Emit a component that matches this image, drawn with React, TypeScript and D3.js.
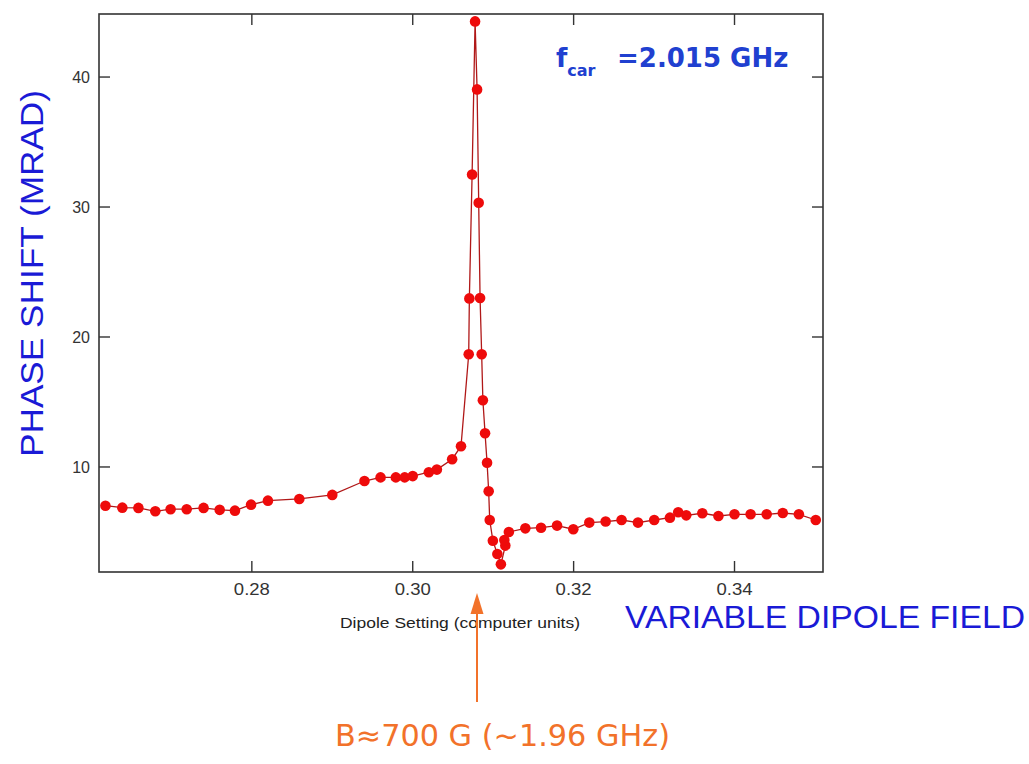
import React from "react";
import * as d3 from "d3";

const dipoleSetting: number[] = [
  0.2618, 0.2639, 0.2659, 0.268, 0.2699, 0.2719, 0.274, 0.276, 0.2779, 0.2799,
  0.282, 0.2859, 0.29, 0.294, 0.296, 0.2979, 0.299, 0.3, 0.302, 0.303,
  0.3049, 0.306, 0.30696, 0.30704, 0.30738, 0.30775, 0.308, 0.3082, 0.30837, 0.30857,
  0.30872, 0.30899, 0.30924, 0.30944, 0.30957, 0.30996, 0.31052, 0.31096, 0.31151, 0.31139,
  0.31195, 0.314, 0.31595, 0.31794, 0.31996, 0.32195, 0.32398, 0.32596, 0.328, 0.33002,
  0.33197, 0.333, 0.334, 0.336, 0.338, 0.34, 0.342, 0.344, 0.346, 0.348, 0.3501,
];

const phaseShift: number[] = [
  7.02, 6.87, 6.85, 6.59, 6.75, 6.75, 6.85, 6.7, 6.64, 7.1,
  7.41, 7.54, 7.85, 8.92, 9.2, 9.2, 9.2, 9.3, 9.6, 9.8,
  10.6, 11.6, 18.67, 22.97, 32.5, 44.28, 39.05, 30.33, 23.0, 18.67,
  15.13, 12.6, 10.33, 8.13, 5.92, 4.33, 3.31, 2.51, 3.95, 4.38,
  5.0, 5.28, 5.33, 5.49, 5.21, 5.72, 5.8, 5.92, 5.72, 5.92,
  6.1, 6.52, 6.28, 6.44, 6.23, 6.36, 6.36, 6.36, 6.46, 6.36, 5.92,
];

const xTicks: number[] = [0.28, 0.3, 0.32, 0.34];
const xTickLabels: string[] = ["0.28", "0.30", "0.32", "0.34"];
const yTicks: number[] = [10, 20, 30, 40];
const yTickLabels: string[] = ["10", "20", "30", "40"];

const W = 1029;
const H = 764;
const L = 99, R = 823, T = 14, B = 572;

export default function App() {
  const x = d3.scaleLinear().domain([0.261, 0.351]).range([L, R]);
  const y = d3.scaleLinear().domain([1.92, 44.85]).range([B, T]);
  const pts = dipoleSetting.map((d, i) => [d, phaseShift[i]] as [number, number]);
  const line = d3
    .line<[number, number]>()
    .x((d) => x(d[0]))
    .y((d) => y(d[1]))(pts) as string;

  const axisColor = "#333";
  const tickLen = 11;
  const blue = "#1a1ad6";
  const orange = "#f2722a";
  const arrowX = 477;

  return (
    <svg
      width={W}
      height={H}
      style={{ position: "absolute", left: 0, top: 0, background: "#fff" }}
      fontFamily="'Liberation Sans', Arial, sans-serif"
    >
      <rect x={0} y={0} width={W} height={H} fill="#fff" />
      <rect x={L} y={T} width={R - L} height={B - T} fill="none" stroke={axisColor} strokeWidth={1.6} />
      {xTicks.map((t, i) => (
        <g key={"xt" + i}>
          <line x1={x(t)} x2={x(t)} y1={B} y2={B - tickLen} stroke={axisColor} strokeWidth={1.4} />
          <line x1={x(t)} x2={x(t)} y1={T} y2={T + tickLen} stroke={axisColor} strokeWidth={1.4} />
          <text x={x(t)} y={595} textAnchor="middle" fontSize={16} fill="#333" textLength={36} lengthAdjust="spacingAndGlyphs">
            {xTickLabels[i]}
          </text>
        </g>
      ))}
      {yTicks.map((t, i) => (
        <g key={"yt" + i}>
          <line x1={L} x2={L + tickLen} y1={y(t)} y2={y(t)} stroke={axisColor} strokeWidth={1.4} />
          <line x1={R} x2={R - tickLen} y1={y(t)} y2={y(t)} stroke={axisColor} strokeWidth={1.4} />
          <text x={90} y={y(t) + 6} textAnchor="end" fontSize={16} fill="#333">
            {yTickLabels[i]}
          </text>
        </g>
      ))}
      <path d={line} fill="none" stroke="#b01818" strokeWidth={1.3} />
      {pts.map((d, i) => (
        <circle key={"p" + i} cx={x(d[0])} cy={y(d[1])} r={5.3} fill="#ee0b0b" />
      ))}
      <text x={340} y={628} fontSize={15} fill="#222" textLength={240} lengthAdjust="spacingAndGlyphs">
        Dipole Setting (computer units)
      </text>
      <text
        transform="translate(43,457) rotate(-90)"
        x={0}
        y={0}
        fontSize={31}
        fill={blue}
        textLength={367}
        lengthAdjust="spacingAndGlyphs"
      >
        PHASE SHIFT (MRAD)
      </text>
      <text x={625} y={628} fontSize={31} fill={blue} textLength={400} lengthAdjust="spacingAndGlyphs">
        VARIABLE DIPOLE FIELD
      </text>
      <text x={556} y={67} fontSize={26} fontWeight="bold" fill="#2040d0" fontFamily="'DejaVu Sans', sans-serif">
        f
        <tspan fontSize={16} dy={9}>car</tspan>
        <tspan dy={-9} x={617} fontSize={26}>=2.015 GHz</tspan>
      </text>
      <line x1={arrowX} x2={arrowX} y1={702} y2={610} stroke={orange} strokeWidth={2} />
      <path d={`M${arrowX},593 L${arrowX - 6.5},614 L${arrowX + 6.5},614 Z`} fill={orange} />
      <text
        x={335}
        y={746}
        fontSize={30}
        fill={orange}
        fontFamily="'DejaVu Sans', sans-serif"
        textLength={335}
        lengthAdjust="spacingAndGlyphs"
      >
        B≈700 G (~1.96 GHz)
      </text>
    </svg>
  );
}
